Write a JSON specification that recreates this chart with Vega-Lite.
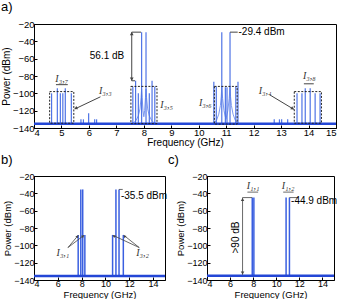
{
  "$schema": "https://vega.github.io/schema/vega-lite/v6.json",
  "padding": 0,
  "background": "white",
  "config": {
    "font": "Liberation Sans",
    "view": {"stroke": "black", "strokeWidth": 1},
    "axis": {"grid": false, "domainColor": "black", "tickColor": "black", "labelColor": "black", "titleColor": "black", "labelFontSize": 9.5, "titleFontSize": 10, "titleFontWeight": "normal", "tickSize": -3, "labelPadding": 1, "labelFont": "Liberation Sans", "titleFont": "Liberation Sans", "titlePadding": 1},
    "axisY": {"labelPadding": 3},
    "axisX": {"labelPadding": 2},
    "title": {"fontSize": 13, "fontWeight": "normal", "anchor": "start", "frame": "group", "font": "Liberation Sans", "color": "black"}
  },
  "datasets": {
    "floor": [
      {"panel": "a", "f": 4, "f2": 15, "p": -135},
      {"panel": "b", "f": 4, "f2": 15, "p": -135.5},
      {"panel": "c", "f": 4, "f2": 15, "p": -135}
    ],
    "spikes": [
      {"panel": "a", "f": 4.64, "p": -100}, {"panel": "a", "f": 4.85, "p": -94}, {"panel": "a", "f": 4.96, "p": -100}, {"panel": "a", "f": 5.05, "p": -100}, {"panel": "a", "f": 5.14, "p": -94}, {"panel": "a", "f": 5.36, "p": -100},
      {"panel": "a", "f": 5.71, "p": -130}, {"panel": "a", "f": 5.8, "p": -130}, {"panel": "a", "f": 5.99, "p": -123}, {"panel": "a", "f": 6.21, "p": -130}, {"panel": "a", "f": 6.28, "p": -130},
      {"panel": "a", "f": 7.6, "p": -92}, {"panel": "a", "f": 7.7, "p": -85.5}, {"panel": "a", "f": 7.8, "p": -100}, {"panel": "a", "f": 7.92, "p": -29.4}, {"panel": "a", "f": 8.08, "p": -29.4}, {"panel": "a", "f": 8.2, "p": -100}, {"panel": "a", "f": 8.3, "p": -85.5}, {"panel": "a", "f": 8.4, "p": -92},
      {"panel": "a", "f": 10.55, "p": -86.5}, {"panel": "a", "f": 10.64, "p": -92}, {"panel": "a", "f": 10.84, "p": -29.4}, {"panel": "a", "f": 10.97, "p": -93}, {"panel": "a", "f": 11.03, "p": -93}, {"panel": "a", "f": 11.14, "p": -29.4}, {"panel": "a", "f": 11.35, "p": -92}, {"panel": "a", "f": 11.43, "p": -86.5},
      {"panel": "a", "f": 12.75, "p": -130}, {"panel": "a", "f": 12.94, "p": -130}, {"panel": "a", "f": 13.02, "p": -130}, {"panel": "a", "f": 13.24, "p": -130},
      {"panel": "a", "f": 13.58, "p": -100}, {"panel": "a", "f": 13.76, "p": -100}, {"panel": "a", "f": 13.88, "p": -94}, {"panel": "a", "f": 14.06, "p": -94}, {"panel": "a", "f": 14.24, "p": -100}, {"panel": "a", "f": 14.42, "p": -100},
      {"panel": "b", "f": 7.71, "p": -88}, {"panel": "b", "f": 7.93, "p": -35.5}, {"panel": "b", "f": 8.09, "p": -35.5}, {"panel": "b", "f": 8.27, "p": -88},
      {"panel": "b", "f": 10.6, "p": -88}, {"panel": "b", "f": 10.88, "p": -35.5}, {"panel": "b", "f": 11.14, "p": -35.5}, {"panel": "b", "f": 11.5, "p": -88},
      {"panel": "c", "f": 7.92, "p": -44.9}, {"panel": "c", "f": 8.06, "p": -44.9}, {"panel": "c", "f": 10.85, "p": -44.9}, {"panel": "c", "f": 11.14, "p": -44.9}
    ],
    "skirts": [
      {"panel": "a", "id": "s8", "f": 7.6, "p": -135}, {"panel": "a", "id": "s8", "f": 7.72, "p": -131}, {"panel": "a", "id": "s8", "f": 7.8, "p": -126}, {"panel": "a", "id": "s8", "f": 7.86, "p": -118}, {"panel": "a", "id": "s8", "f": 7.9, "p": -105}, {"panel": "a", "id": "s8", "f": 7.92, "p": -95}, {"panel": "a", "id": "s8", "f": 7.94, "p": -105}, {"panel": "a", "id": "s8", "f": 7.97, "p": -120}, {"panel": "a", "id": "s8", "f": 8.0, "p": -127}, {"panel": "a", "id": "s8", "f": 8.03, "p": -120}, {"panel": "a", "id": "s8", "f": 8.06, "p": -105}, {"panel": "a", "id": "s8", "f": 8.08, "p": -95}, {"panel": "a", "id": "s8", "f": 8.1, "p": -105}, {"panel": "a", "id": "s8", "f": 8.14, "p": -118}, {"panel": "a", "id": "s8", "f": 8.2, "p": -126}, {"panel": "a", "id": "s8", "f": 8.28, "p": -131}, {"panel": "a", "id": "s8", "f": 8.4, "p": -135},
      {"panel": "a", "id": "s11", "f": 10.55, "p": -135}, {"panel": "a", "id": "s11", "f": 10.65, "p": -131}, {"panel": "a", "id": "s11", "f": 10.73, "p": -124}, {"panel": "a", "id": "s11", "f": 10.79, "p": -114}, {"panel": "a", "id": "s11", "f": 10.82, "p": -104}, {"panel": "a", "id": "s11", "f": 10.84, "p": -92}, {"panel": "a", "id": "s11", "f": 10.87, "p": -106}, {"panel": "a", "id": "s11", "f": 10.92, "p": -120}, {"panel": "a", "id": "s11", "f": 10.99, "p": -130}, {"panel": "a", "id": "s11", "f": 11.06, "p": -120}, {"panel": "a", "id": "s11", "f": 11.11, "p": -106}, {"panel": "a", "id": "s11", "f": 11.14, "p": -92}, {"panel": "a", "id": "s11", "f": 11.16, "p": -104}, {"panel": "a", "id": "s11", "f": 11.19, "p": -114}, {"panel": "a", "id": "s11", "f": 11.25, "p": -124}, {"panel": "a", "id": "s11", "f": 11.33, "p": -131}, {"panel": "a", "id": "s11", "f": 11.43, "p": -135}
    ],
    "boxes": [
      {"panel": "a", "id": "I37", "f": 4.57, "f2": 5.45, "p": -98, "p2": -134.5},
      {"panel": "a", "id": "I35", "f": 7.53, "f2": 8.48, "p": -92, "p2": -135},
      {"panel": "a", "id": "I36", "f": 10.57, "f2": 11.4, "p": -92, "p2": -135.5},
      {"panel": "a", "id": "I38", "f": 13.48, "f2": 14.47, "p": -98, "p2": -134.5}
    ],
    "segs": [
      {"panel": "a", "f": 4.8, "p": -90, "f2": 5.23, "p2": -90},
      {"panel": "a", "f": 6.42, "p": -104, "f2": 5.49, "p2": -118},
      {"panel": "a", "f": 7.56, "p": -29.4, "f2": 7.56, "p2": -85.5},
      {"panel": "a", "f": 7.56, "p": -29.4, "f2": 7.9, "p2": -29.4},
      {"panel": "a", "f": 7.56, "p": -85.5, "f2": 7.68, "p2": -85.5},
      {"panel": "a", "f": 11.14, "p": -29.4, "f2": 11.42, "p2": -29.4},
      {"panel": "a", "f": 12.6, "p": -102, "f2": 13.46, "p2": -118.4},
      {"panel": "a", "f": 13.83, "p": -89, "f2": 14.19, "p2": -89},
      {"panel": "b", "f": 6.85, "p": -102.6, "f2": 7.71, "p2": -88.5},
      {"panel": "b", "f": 6.85, "p": -102.6, "f2": 8.19, "p2": -88.5},
      {"panel": "b", "f": 12.84, "p": -102.6, "f2": 10.64, "p2": -88.5},
      {"panel": "b", "f": 12.84, "p": -102.6, "f2": 11.55, "p2": -88.5},
      {"panel": "b", "f": 11.14, "p": -35.5, "f2": 11.45, "p2": -35.5},
      {"panel": "c", "f": 7.5, "p": -38.6, "f2": 8.43, "p2": -38.6},
      {"panel": "c", "f": 10.6, "p": -38.6, "f2": 11.5, "p2": -38.6},
      {"panel": "c", "f": 11.14, "p": -44.9, "f2": 11.9, "p2": -44.9},
      {"panel": "c", "f": 7.08, "p": -44.9, "f2": 7.08, "p2": -134},
      {"panel": "c", "f": 7.08, "p": -44.9, "f2": 7.92, "p2": -44.9}
    ],
    "heads": [
      {"panel": "a", "id": "up", "f": 7.56, "p": -31},
      {"panel": "a", "id": "down", "f": 7.56, "p": -83.5},
      {"panel": "a", "id": "a33", "f": 5.52, "p": -117.3},
      {"panel": "a", "id": "a34", "f": 13.42, "p": -117.6},
      {"panel": "b", "id": "b1", "f": 7.65, "p": -89.5},
      {"panel": "b", "id": "b2", "f": 8.12, "p": -89.3},
      {"panel": "b", "id": "b3", "f": 10.7, "p": -89.3},
      {"panel": "b", "id": "b4", "f": 11.6, "p": -89.5},
      {"panel": "c", "id": "up", "f": 7.08, "p": -47},
      {"panel": "c", "id": "down", "f": 7.08, "p": -132}
    ],
    "texts": [
      {"panel": "a", "id": "left", "f": 11.45, "p": -29.4, "label": "-29.4 dBm"},
      {"panel": "a", "id": "center", "f": 6.66, "p": -56.8, "label": "56.1 dB"},
      {"panel": "b", "id": "left", "f": 11.3, "p": -43, "label": "-35.5 dBm"},
      {"panel": "c", "id": "left", "f": 11.28, "p": -49, "label": "-44.9 dBm"},
      {"panel": "c", "id": "rot", "f": 6.5, "p": -91, "label": ">90 dB"}
    ],
    "ilabels": [
      {"panel": "a", "f": 5.01, "p": -84, "label": "I₃,₇"},
      {"panel": "a", "f": 6.6, "p": -97, "label": "I₃,₃"},
      {"panel": "a", "f": 8.83, "p": -113, "label": "I₃,₅"},
      {"panel": "a", "f": 10.24, "p": -111.5, "label": "I₃,₆"},
      {"panel": "a", "f": 12.42, "p": -97, "label": "I₃,₄"},
      {"panel": "a", "f": 14.03, "p": -80, "label": "I₃,₈"},
      {"panel": "b", "f": 6.43, "p": -108.3, "label": "I₃,₁"},
      {"panel": "b", "f": 13.12, "p": -108.3, "label": "I₃,₂"},
      {"panel": "c", "f": 8.0, "p": -32.1, "label": "I₁,₁"},
      {"panel": "c", "f": 11.03, "p": -32.1, "label": "I₁,₂"}
    ]
  },
  "bounds": "flush",
  "spacing": 48,
  "vconcat": [
    {
      "width": 302,
      "height": 104,
      "title": {"text": "a)", "dx": -33, "offset": 5},
      "encoding": {
        "x": {"field": "f", "type": "quantitative", "title": "Frequency (GHz)", "scale": {"domain": [4, 15], "nice": false, "zero": false}, "axis": {"values": [4, 5, 6, 7, 8, 9, 10, 11, 12, 13, 14, 15]}},
        "y": {"field": "p", "type": "quantitative", "title": "Power (dBm)", "scale": {"domain": [-140, -20], "nice": false, "zero": false}, "axis": {"values": [-140, -120, -100, -80, -60, -40, -20]}}
      },
      "layer": [
        {"data": {"name": "skirts"}, "transform": [{"filter": "datum.panel === 'a'"}], "mark": {"type": "line", "color": "#7d9af0", "strokeWidth": 1}, "encoding": {"detail": {"field": "id"}}},
        {"data": {"name": "spikes"}, "transform": [{"filter": "datum.panel === 'a'"}], "mark": {"type": "rule", "color": "#4f74e6", "strokeWidth": 1.2}, "encoding": {"y2": {"datum": -135}}},
        {"data": {"name": "floor"}, "transform": [{"filter": "datum.panel === 'a'"}], "mark": {"type": "rule", "color": "#2346d6", "strokeWidth": 2.5}, "encoding": {"x2": {"field": "f2"}}},
        {"data": {"name": "boxes"}, "transform": [{"filter": "datum.panel === 'a'"}], "mark": {"type": "rect", "fill": null, "fillOpacity": 0, "stroke": "#222", "strokeWidth": 1, "strokeDash": [2, 1.5]}, "encoding": {"x2": {"field": "f2"}, "y2": {"field": "p2"}}},
        {"data": {"name": "segs"}, "transform": [{"filter": "datum.panel === 'a'"}], "mark": {"type": "rule", "color": "#444", "strokeWidth": 1}, "encoding": {"x2": {"field": "f2"}, "y2": {"field": "p2"}}},
        {"data": {"name": "heads"}, "transform": [{"filter": "datum.panel === 'a' && datum.id === 'up'"}], "mark": {"type": "point", "shape": "triangle-up", "filled": true, "color": "#444", "size": 14, "opacity": 1}},
        {"data": {"name": "heads"}, "transform": [{"filter": "datum.panel === 'a' && datum.id === 'down'"}], "mark": {"type": "point", "shape": "triangle-down", "filled": true, "color": "#444", "size": 14, "opacity": 1}},
        {"data": {"name": "heads"}, "transform": [{"filter": "datum.panel === 'a' && datum.id === 'a33'"}], "mark": {"type": "point", "shape": "triangle-up", "angle": 245, "filled": true, "color": "#444", "size": 14, "opacity": 1}},
        {"data": {"name": "heads"}, "transform": [{"filter": "datum.panel === 'a' && datum.id === 'a34'"}], "mark": {"type": "point", "shape": "triangle-up", "angle": 121, "filled": true, "color": "#444", "size": 14, "opacity": 1}},
        {"data": {"name": "texts"}, "transform": [{"filter": "datum.panel === 'a' && datum.id === 'left'"}], "mark": {"type": "text", "align": "left", "baseline": "middle", "fontSize": 10, "color": "black"}, "encoding": {"text": {"field": "label"}}},
        {"data": {"name": "texts"}, "transform": [{"filter": "datum.panel === 'a' && datum.id === 'center'"}], "mark": {"type": "text", "align": "center", "baseline": "middle", "fontSize": 10, "color": "black"}, "encoding": {"text": {"field": "label"}}},
        {"data": {"name": "ilabels"}, "transform": [{"filter": "datum.panel === 'a'"}], "mark": {"type": "text", "align": "center", "baseline": "middle", "fontSize": 10, "font": "Liberation Serif", "fontStyle": "italic", "color": "#333"}, "encoding": {"text": {"field": "label"}}}
      ]
    },
    {
      "bounds": "flush",
      "spacing": 42,
      "hconcat": [
        {
          "width": 131,
          "height": 104,
          "title": {"text": "b)", "dx": -33, "offset": 5},
          "encoding": {
            "x": {"field": "f", "type": "quantitative", "title": "Frequency (GHz)", "scale": {"domain": [4, 15], "nice": false, "zero": false}, "axis": {"values": [4, 6, 8, 10, 12, 14], "labelFontSize": 9, "titleFontSize": 9.5}},
            "y": {"field": "p", "type": "quantitative", "title": "Power (dBm)", "scale": {"domain": [-140, -20], "nice": false, "zero": false}, "axis": {"values": [-140, -120, -100, -80, -60, -40, -20], "labelFontSize": 9, "titleFontSize": 9.5}}
          },
          "layer": [
            {"data": {"name": "spikes"}, "transform": [{"filter": "datum.panel === 'b'"}], "mark": {"type": "rule", "color": "#3a5fe0", "strokeWidth": 1.5}, "encoding": {"y2": {"datum": -135.5}}},
            {"data": {"name": "floor"}, "transform": [{"filter": "datum.panel === 'b'"}], "mark": {"type": "rule", "color": "#2346d6", "strokeWidth": 2.5}, "encoding": {"x2": {"field": "f2"}}},
            {"data": {"name": "segs"}, "transform": [{"filter": "datum.panel === 'b'"}], "mark": {"type": "rule", "color": "#444", "strokeWidth": 0.8}, "encoding": {"x2": {"field": "f2"}, "y2": {"field": "p2"}}},
            {"data": {"name": "heads"}, "transform": [{"filter": "datum.panel === 'b' && datum.id === 'b1'"}], "mark": {"type": "point", "shape": "triangle-up", "angle": 37, "filled": true, "color": "#444", "size": 10, "opacity": 1}},
            {"data": {"name": "heads"}, "transform": [{"filter": "datum.panel === 'b' && datum.id === 'b2'"}], "mark": {"type": "point", "shape": "triangle-up", "angle": 50, "filled": true, "color": "#444", "size": 10, "opacity": 1}},
            {"data": {"name": "heads"}, "transform": [{"filter": "datum.panel === 'b' && datum.id === 'b3'"}], "mark": {"type": "point", "shape": "triangle-up", "angle": 297, "filled": true, "color": "#444", "size": 10, "opacity": 1}},
            {"data": {"name": "heads"}, "transform": [{"filter": "datum.panel === 'b' && datum.id === 'b4'"}], "mark": {"type": "point", "shape": "triangle-up", "angle": 311, "filled": true, "color": "#444", "size": 10, "opacity": 1}},
            {"data": {"name": "texts"}, "transform": [{"filter": "datum.panel === 'b'"}], "mark": {"type": "text", "align": "left", "baseline": "middle", "fontSize": 10, "color": "black"}, "encoding": {"text": {"field": "label"}}},
            {"data": {"name": "ilabels"}, "transform": [{"filter": "datum.panel === 'b'"}], "mark": {"type": "text", "align": "center", "baseline": "middle", "fontSize": 10, "font": "Liberation Serif", "fontStyle": "italic", "color": "#333"}, "encoding": {"text": {"field": "label"}}}
          ]
        },
        {
          "width": 127,
          "height": 104,
          "title": {"text": "c)", "dx": -39, "offset": 5},
          "encoding": {
            "x": {"field": "f", "type": "quantitative", "title": "Frequency (GHz)", "scale": {"domain": [4, 15], "nice": false, "zero": false}, "axis": {"values": [4, 6, 8, 10, 12, 14], "labelFontSize": 9, "titleFontSize": 9.5}},
            "y": {"field": "p", "type": "quantitative", "title": "Power (dBm)", "scale": {"domain": [-140, -20], "nice": false, "zero": false}, "axis": {"values": [-140, -120, -100, -80, -60, -40, -20], "labelFontSize": 9, "titleFontSize": 9.5}}
          },
          "layer": [
            {"data": {"name": "spikes"}, "transform": [{"filter": "datum.panel === 'c'"}], "mark": {"type": "rule", "color": "#3a5fe0", "strokeWidth": 1.5}, "encoding": {"y2": {"datum": -135}}},
            {"data": {"name": "floor"}, "transform": [{"filter": "datum.panel === 'c'"}], "mark": {"type": "rule", "color": "#2346d6", "strokeWidth": 2.5}, "encoding": {"x2": {"field": "f2"}}},
            {"data": {"name": "segs"}, "transform": [{"filter": "datum.panel === 'c'"}], "mark": {"type": "rule", "color": "#444", "strokeWidth": 0.8}, "encoding": {"x2": {"field": "f2"}, "y2": {"field": "p2"}}},
            {"data": {"name": "heads"}, "transform": [{"filter": "datum.panel === 'c' && datum.id === 'up'"}], "mark": {"type": "point", "shape": "triangle-up", "filled": true, "color": "#444", "size": 12, "opacity": 1}},
            {"data": {"name": "heads"}, "transform": [{"filter": "datum.panel === 'c' && datum.id === 'down'"}], "mark": {"type": "point", "shape": "triangle-down", "filled": true, "color": "#444", "size": 12, "opacity": 1}},
            {"data": {"name": "texts"}, "transform": [{"filter": "datum.panel === 'c' && datum.id === 'left'"}], "mark": {"type": "text", "align": "left", "baseline": "middle", "fontSize": 10, "color": "black"}, "encoding": {"text": {"field": "label"}}},
            {"data": {"name": "texts"}, "transform": [{"filter": "datum.panel === 'c' && datum.id === 'rot'"}], "mark": {"type": "text", "align": "center", "baseline": "middle", "fontSize": 10, "angle": 270, "color": "black"}, "encoding": {"text": {"field": "label"}}},
            {"data": {"name": "ilabels"}, "transform": [{"filter": "datum.panel === 'c'"}], "mark": {"type": "text", "align": "center", "baseline": "middle", "fontSize": 10, "font": "Liberation Serif", "fontStyle": "italic", "color": "#333"}, "encoding": {"text": {"field": "label"}}}
          ]
        }
      ]
    }
  ]
}
